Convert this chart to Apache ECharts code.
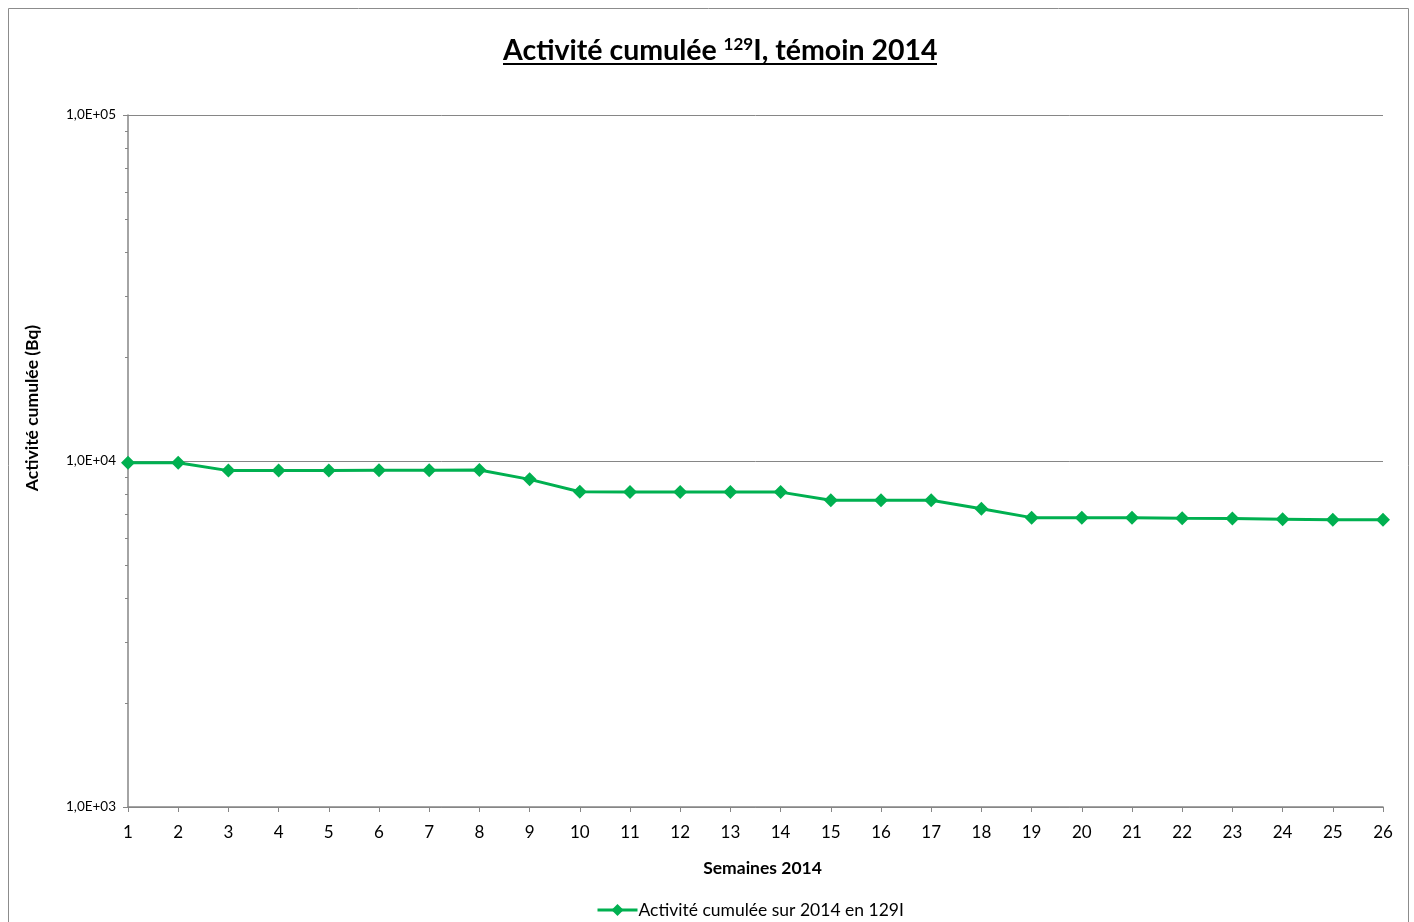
<!DOCTYPE html>
<html>
<head>
<meta charset="utf-8">
<script src="https://cdn.jsdelivr.net/npm/echarts@6/dist/echarts.min.js"></script>
<style>
html,body{margin:0;padding:0;background:#fff;}
#chart{width:1414px;height:922px;}
</style>
</head>
<body>
<div id="chart"></div>
<script>
const weeks = ['1','2','3','4','5','6','7','8','9','10','11','12','13','14','15','16','17','18','19','20','21','22','23','24','25','26'];
const activity = [9890, 9890, 9380, 9380, 9380, 9400, 9400, 9420, 8850, 8150, 8140, 8140, 8140, 8130, 7700, 7700, 7700, 7280, 6860, 6855, 6850, 6830, 6815, 6790, 6760, 6760];
const majorTicks = [1000, 10000, 100000];
const minorTicks = [2000,3000,4000,5000,6000,7000,8000,9000,20000,30000,40000,50000,60000,70000,80000,90000];
const seriesName = 'Activité cumulée sur 2014 en 129I';

const FONT = 'Lato, "Open Sans", sans-serif';
const chart = echarts.init(document.getElementById('chart'));
function expFmt(v){
  const e = Math.round(Math.log10(v));
  const m = v / Math.pow(10, e);
  return m.toFixed(1).replace('.', ',') + 'E+' + String(e).padStart(2, '0');
}
chart.setOption({
  animation: false,
  backgroundColor: '#fff',
  textStyle: {fontFamily: FONT},
  title: {
    left: 498,
    top: 31,
    text: '{a|Activité cumulée }{s|129}{a|I, témoin 2014}',
    textStyle: {
      rich: {
        a: {fontFamily: FONT, fontWeight: 'bold', fontSize: 28.5, color: '#000'},
        s: {fontFamily: FONT, fontWeight: 'bold', fontSize: 17, color: '#000', padding: [0, 0, 13, 0]}
      }
    }
  },
  graphic: [
    {type: 'rect', shape: {x: 8.5, y: 8.5, width: 1400, height: 930}, style: {fill: 'none', stroke: '#8c8c8c', lineWidth: 1}, silent: true},
    {type: 'line', shape: {x1: 503, y1: 64, x2: 937, y2: 64}, style: {stroke: '#000', lineWidth: 2}, silent: true}
  ],
  grid: {left: 128, right: 31, top: 115, bottom: 115, containLabel: false},
  legend: {
    top: 896,
    left: 591,
    itemWidth: 40,
    itemHeight: 15,
    itemGap: 0,
    lineStyle: {width: 3},
    textStyle: {fontFamily: FONT, fontSize: 17.5, color: '#000', padding: [0,0,0,-4]},
    data: [seriesName]
  },
  xAxis: {
    type: 'category',
    data: weeks,
    boundaryGap: false,
    name: 'Semaines 2014',
    nameLocation: 'middle',
    nameGap: 52,
    nameTextStyle: {fontFamily: FONT, fontWeight: 'bold', fontSize: 17.5, color: '#000', padding: [0, 0, 0, 14]},
    axisLine: {lineStyle: {color: '#868686', width: 1.5}},
    axisTick: {show: true, length: 5, interval: 0, lineStyle: {color: '#868686'}},
    axisLabel: {interval: 0, fontSize: 17, color: '#000', margin: 17, fontFamily: FONT},
    splitLine: {show: false}
  },
  yAxis: [
    {
      type: 'log',
      logBase: 10,
      min: 1000,
      max: 100000,
      name: 'Activité cumulée (Bq)',
      nameLocation: 'middle',
      nameRotate: 90,
      nameGap: 87,
      nameTextStyle: {fontFamily: FONT, fontWeight: 'bold', fontSize: 17.5, color: '#000', padding: [0, 0, 0, 106]},
      axisLine: {show: true, lineStyle: {color: '#868686', width: 1.5}},
      axisTick: {show: true, length: 5, customValues: majorTicks, lineStyle: {color: '#868686'}},
      axisLabel: {fontSize: 13.5, color: '#000', margin: 12, formatter: expFmt, customValues: majorTicks, fontFamily: FONT},
      splitLine: {show: true, lineStyle: {color: '#868686', width: 1}}
    },
    {
      type: 'log',
      logBase: 10,
      min: 1000,
      max: 100000,
      position: 'left',
      axisLine: {show: false},
      axisTick: {show: true, length: 3, customValues: minorTicks, lineStyle: {color: '#868686'}},
      axisLabel: {show: false},
      splitLine: {show: false}
    }
  ],
  series: [{
    name: seriesName,
    type: 'line',
    data: activity,
    yAxisIndex: 0,
    symbol: 'diamond',
    symbolSize: 14,
    lineStyle: {color: '#00B050', width: 3},
    itemStyle: {color: '#00B050'},
    z: 5
  }]
});
</script>
</body>
</html>
